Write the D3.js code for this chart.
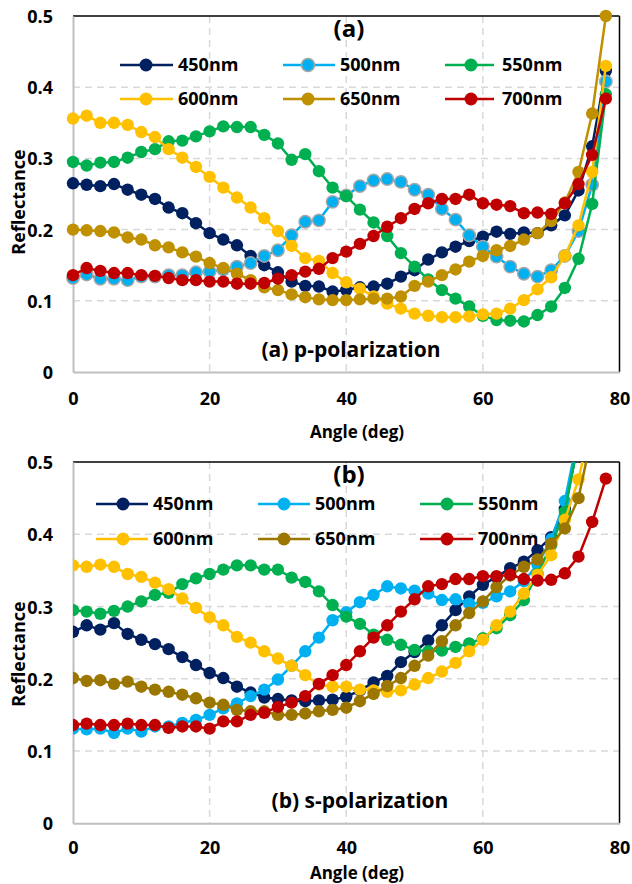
<!DOCTYPE html>
<html><head><meta charset="utf-8">
<script src="https://cdn.jsdelivr.net/npm/d3@7/dist/d3.min.js"></script>
<style>
body{margin:0;background:#fff}
text{font-family:"Open Sans",sans-serif;font-weight:bold;fill:#000}
</style>
</head><body>
<svg id="chart" width="632" height="884"></svg>
<script>
const angles=[0,2,4,6,8,10,12,14,16,18,20,22,24,26,28,30,32,34,36,38,40,42,44,46,48,50,52,54,56,58,60,62,64,66,68,70,72,74,76,78];
const xTicks=[0,20,40,60,80];
const yTicks=[0,0.1,0.2,0.3,0.4,0.5];
const yTickLabels=["0","0.1","0.2","0.3","0.4","0.5"];
const seriesNames=["450nm","500nm","550nm","600nm","650nm","700nm"];

// (a) p-polarization
const p450=[0.265,0.263,0.261,0.264,0.256,0.249,0.243,0.231,0.223,0.209,0.195,0.186,0.178,0.163,0.150,0.140,0.127,0.121,0.120,0.113,0.115,0.119,0.120,0.124,0.134,0.143,0.158,0.168,0.176,0.184,0.190,0.197,0.194,0.196,0.195,0.206,0.220,0.255,0.317,0.423];
const p500=[0.132,0.137,0.131,0.131,0.129,0.134,0.134,0.136,0.136,0.140,0.141,0.144,0.148,0.153,0.163,0.171,0.192,0.211,0.213,0.239,0.248,0.261,0.269,0.271,0.267,0.256,0.249,0.229,0.214,0.192,0.176,0.162,0.148,0.138,0.134,0.143,0.163,0.198,0.263,0.408];
const p550=[0.295,0.290,0.294,0.295,0.301,0.309,0.313,0.324,0.325,0.331,0.338,0.345,0.344,0.344,0.333,0.321,0.298,0.306,0.282,0.259,0.247,0.228,0.210,0.191,0.167,0.148,0.130,0.115,0.103,0.092,0.079,0.073,0.072,0.071,0.080,0.092,0.118,0.159,0.236,0.390];
const p600=[0.356,0.360,0.350,0.350,0.347,0.337,0.330,0.313,0.301,0.288,0.274,0.259,0.245,0.231,0.216,0.198,0.177,0.160,0.156,0.139,0.126,0.117,0.106,0.096,0.089,0.082,0.079,0.077,0.077,0.078,0.081,0.082,0.089,0.101,0.116,0.133,0.163,0.206,0.281,0.430];
const p650=[0.200,0.199,0.198,0.196,0.189,0.186,0.178,0.175,0.168,0.162,0.153,0.146,0.138,0.129,0.119,0.115,0.109,0.105,0.102,0.101,0.101,0.102,0.103,0.103,0.106,0.121,0.127,0.136,0.144,0.155,0.163,0.171,0.177,0.186,0.195,0.212,0.238,0.281,0.363,0.500];
const p700=[0.136,0.146,0.142,0.139,0.139,0.136,0.135,0.132,0.129,0.129,0.127,0.127,0.124,0.124,0.125,0.131,0.136,0.141,0.145,0.160,0.169,0.180,0.191,0.204,0.216,0.229,0.237,0.243,0.243,0.249,0.237,0.235,0.233,0.223,0.224,0.222,0.237,0.264,0.305,0.384];

// (b) s-polarization
const s450=[0.265,0.274,0.268,0.277,0.262,0.254,0.248,0.241,0.230,0.219,0.208,0.201,0.189,0.181,0.174,0.172,0.170,0.169,0.170,0.171,0.175,0.184,0.195,0.204,0.223,0.237,0.253,0.274,0.295,0.314,0.330,0.341,0.353,0.362,0.378,0.396,0.435,0.530];
const s500=[0.131,0.130,0.131,0.125,0.131,0.127,0.134,0.134,0.139,0.143,0.150,0.159,0.166,0.176,0.185,0.199,0.218,0.238,0.257,0.281,0.292,0.306,0.316,0.328,0.325,0.322,0.318,0.309,0.310,0.304,0.305,0.314,0.321,0.335,0.358,0.393,0.446,0.540];
const s550=[0.295,0.293,0.290,0.294,0.300,0.307,0.316,0.319,0.331,0.339,0.345,0.351,0.357,0.357,0.351,0.351,0.340,0.334,0.321,0.302,0.286,0.276,0.261,0.254,0.247,0.240,0.238,0.239,0.244,0.249,0.256,0.270,0.288,0.309,0.345,0.385,0.431,0.530];
const s600=[0.357,0.355,0.358,0.355,0.345,0.341,0.333,0.324,0.311,0.298,0.285,0.274,0.258,0.250,0.238,0.228,0.218,0.205,0.192,0.189,0.189,0.185,0.184,0.182,0.184,0.192,0.201,0.210,0.222,0.238,0.254,0.274,0.293,0.318,0.344,0.371,0.420,0.476,0.560];
const s650=[0.201,0.197,0.198,0.193,0.196,0.189,0.185,0.182,0.178,0.173,0.167,0.164,0.157,0.155,0.155,0.150,0.150,0.152,0.155,0.157,0.160,0.169,0.179,0.190,0.201,0.218,0.232,0.252,0.274,0.291,0.307,0.327,0.343,0.355,0.365,0.387,0.408,0.450,0.540];
const s700=[0.136,0.138,0.136,0.136,0.138,0.136,0.136,0.132,0.134,0.134,0.131,0.141,0.141,0.150,0.153,0.161,0.167,0.176,0.193,0.205,0.219,0.238,0.257,0.274,0.293,0.310,0.328,0.331,0.338,0.338,0.342,0.342,0.344,0.338,0.336,0.337,0.346,0.369,0.417,0.477];

const colorsA=["#002060","#00B0F0","#00B050","#FFC000","#BF9000","#C00000"];
const colorsB=["#002060","#00B0F0","#00B050","#FFC000","#9C7700","#C00000"];

const svg=d3.select("#chart");
const X0=73, X1=619.5;

const panels=[
 {id:"a",top:16,bottom:372,data:[p450,p500,p550,p600,p650,p700],colors:colorsA,
  outline:[null,"#A6A6A6",null,null,null,null],
  title:"(a)",titleY:37,label:"(a) p-polarization",labelX:351,labelY:357,
  tickY:405,axisTitleY:438,yTitleY:202,
  legRows:[65,99],legCols:[{l:120,r:173,m:146,t:178},{l:283,r:335,m:308,t:340},{l:445,r:494,m:471,t:502}],clip:false},
 {id:"b",top:462,bottom:823.3,data:[s450,s500,s550,s600,s650,s700],colors:colorsB,
  outline:[null,null,null,null,null,null],
  title:"(b)",titleY:483,label:"(b) s-polarization",labelX:360,labelY:808,
  tickY:854.5,axisTitleY:878.5,yTitleY:654,
  legRows:[504,539],legCols:[{l:96,r:148,m:123,t:153},{l:258,r:310,m:284,t:315},{l:420,r:473,m:447,t:478}],clip:true}
];

panels.forEach(P=>{
  const x=d3.scaleLinear().domain([0,80]).range([X0,X1]);
  const y=d3.scaleLinear().domain([0,0.5]).range([P.bottom,P.top]);
  const g=svg.append("g");

  // grid
  g.selectAll(".gx").data(xTicks.filter(t=>t>0&&t<80)).enter().append("line")
    .attr("x1",d=>x(d)).attr("x2",d=>x(d)).attr("y1",P.top).attr("y2",P.bottom)
    .attr("stroke","#D9D9D9").attr("stroke-width",1.5).attr("stroke-dasharray","7,5");
  g.selectAll(".gy").data(yTicks.filter(t=>t>0&&t<0.5)).enter().append("line")
    .attr("y1",d=>y(d)).attr("y2",d=>y(d)).attr("x1",X0).attr("x2",X1)
    .attr("stroke","#D9D9D9").attr("stroke-width",1.5).attr("stroke-dasharray","7,5");

  // frame
  g.append("line").attr("x1",X0).attr("x2",X1).attr("y1",P.top).attr("y2",P.top).attr("stroke","#000").attr("stroke-width",1.5);
  g.append("line").attr("x1",X1).attr("x2",X1).attr("y1",P.top).attr("y2",P.bottom).attr("stroke","#000").attr("stroke-width",1.5);

  // axes via d3
  const xAxis=d3.axisBottom(x).tickValues(xTicks).tickSize(0).tickFormat(d3.format("d"));
  const ax=g.append("g").attr("transform",`translate(0,${P.bottom})`).call(xAxis);
  ax.select(".domain").attr("stroke","#BFBFBF").attr("stroke-width",2);
  ax.selectAll("text").attr("dy",null).attr("y",P.tickY-P.bottom).style("font-size","18px").style("font-family","'Open Sans',sans-serif").style("font-weight","bold").attr("fill","#000");

  const yAxis=d3.axisLeft(y).tickValues(yTicks).tickSize(0).tickFormat((d,i)=>yTickLabels[i]);
  const ay=g.append("g").attr("transform",`translate(${X0},0)`).call(yAxis);
  ay.select(".domain").attr("stroke","#BFBFBF").attr("stroke-width",2);
  ay.selectAll("text").attr("x",53-X0).attr("dy","0.36em").style("font-size","18px").style("font-family","'Open Sans',sans-serif").style("font-weight","bold").attr("fill","#000");

  // axis titles
  g.append("text").attr("x",357).attr("y",P.axisTitleY).attr("text-anchor","middle").style("font-size","17px").text("Angle (deg)");
  g.append("text").attr("transform",`translate(25,${P.yTitleY}) rotate(-90)`).attr("text-anchor","middle").style("font-size","18px").text("Reflectance");

  // series
  if(P.clip){
    svg.append("clipPath").attr("id","clip"+P.id).append("rect")
      .attr("x",X0).attr("y",P.top).attr("width",X1-X0+10).attr("height",P.bottom-P.top);
  }
  const sg=g.append("g");
  if(P.clip) sg.attr("clip-path",`url(#clip${P.id})`);
  const line=d3.line().x(d=>x(d[0])).y(d=>y(d[1]));
  P.data.forEach((vals,si)=>{
    const pts=vals.map((v,i)=>[angles[i],v]);
    const s=sg.append("g");
    s.append("path").attr("d",line(pts)).attr("fill","none").attr("stroke",P.colors[si]).attr("stroke-width",2.5);
    s.selectAll("circle").data(pts).enter().append("circle")
      .attr("cx",d=>x(d[0])).attr("cy",d=>y(d[1])).attr("r",6.2)
      .attr("fill",P.colors[si])
      .attr("stroke",P.outline[si]||"none").attr("stroke-width",P.outline[si]?1.5:0);
  });

  // title & label
  g.append("text").attr("x",349).attr("y",P.titleY).attr("text-anchor","middle").style("font-size","24px").text(P.title);
  g.append("text").attr("x",P.labelX).attr("y",P.labelY).attr("text-anchor","middle").style("font-size","21px").text(P.label);

  // legend
  seriesNames.forEach((nm,i)=>{
    const row=Math.floor(i/3), col=i%3;
    const C=P.legCols[col], yy=P.legRows[row];
    const lg=g.append("g");
    lg.append("line").attr("x1",C.l).attr("x2",C.r).attr("y1",yy).attr("y2",yy).attr("stroke",P.colors[i]).attr("stroke-width",2.5);
    lg.append("circle").attr("cx",C.m).attr("cy",yy).attr("r",6.5).attr("fill",P.colors[i])
      .attr("stroke",P.outline[i]||"none").attr("stroke-width",P.outline[i]?1.5:0);
    lg.append("text").attr("x",C.t).attr("y",yy).attr("dy","0.36em").style("font-size","18px").text(nm);
  });
});
</script>
</body></html>
